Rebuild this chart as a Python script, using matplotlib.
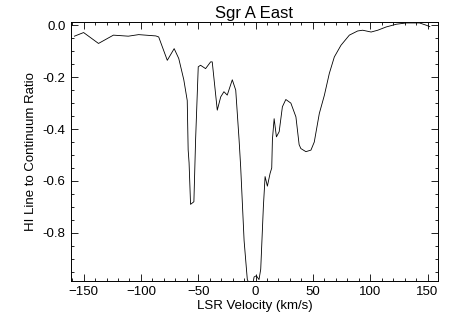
import numpy as np
import matplotlib
matplotlib.use("Agg")
import matplotlib.pyplot as plt
from matplotlib.ticker import MultipleLocator

plt.rcParams['font.family'] = ['Liberation Sans', 'DejaVu Sans']

# HI absorption spectrum towards Sgr A East
velocity = [-158, -150, -137, -124, -111, -102, -87, -84.5, -77, -71, -67, -62.6,
            -59.6, -58.8, -58, -56.7, -53.8, -52.3, -50, -48, -43.6, -39.2, -37.8,
            -33.4, -30.4, -27.6, -24.7, -20.3, -17.3, -14.4, -13, -10, -7.2, -5,
            -2.5, -1.3, 0.7, 3, 4.5, 6.8, 8.3, 10.3, 12.7, 14.1, 14.7, 16.2, 18.2,
            20.6, 23.4, 26.4, 30.8, 35.2, 38, 39.5, 43.9, 48.3, 51.2, 55.6, 60,
            64.3, 68.7, 74.5, 81.8, 89, 93.4, 100.8, 106.6, 113.9, 122.7, 131.4,
            143, 149, 152]
ratio = [-0.042, -0.028, -0.07, -0.038, -0.042, -0.036, -0.041, -0.045, -0.135,
         -0.09, -0.128, -0.21, -0.29, -0.48, -0.53, -0.69, -0.68, -0.44, -0.16,
         -0.154, -0.167, -0.141, -0.141, -0.327, -0.276, -0.256, -0.269, -0.21,
         -0.25, -0.44, -0.545, -0.83, -0.98, -1.0, -1.0, -0.97, -0.965, -0.98,
         -0.94, -0.70, -0.583, -0.62, -0.57, -0.55, -0.44, -0.36, -0.43, -0.41,
         -0.314, -0.286, -0.30, -0.353, -0.46, -0.475, -0.487, -0.481, -0.45,
         -0.34, -0.27, -0.186, -0.122, -0.077, -0.038, -0.022, -0.019, -0.026,
         -0.019, -0.0065, 0.004, 0.009, 0.009, 0.0, -0.005]

fig = plt.figure(figsize=(4.58, 3.27), dpi=100)
ax = fig.add_axes([0.155, 0.141, 0.801, 0.792])
ax.plot(velocity, ratio, color='black', lw=0.6)

ax.set_xlim(-161, 159)
ax.set_ylim(-0.985, 0.013)
ax.xaxis.set_major_locator(MultipleLocator(50))
ax.xaxis.set_minor_locator(MultipleLocator(10))
ax.yaxis.set_major_locator(MultipleLocator(0.2))
ax.yaxis.set_minor_locator(MultipleLocator(0.05))
ax.yaxis.set_major_formatter(matplotlib.ticker.FormatStrFormatter('%.1f'))
ax.tick_params(which='both', direction='in', top=True, right=True,
               labelsize=9.5, width=0.6, pad=4)
ax.tick_params(which='major', length=5)
ax.tick_params(which='minor', length=2.5)
for s in ax.spines.values():
    s.set_linewidth(0.7)

ax.set_title('Sgr A East', fontsize=12, pad=3)
ax.set_xlabel('LSR Velocity (km/s)', fontsize=9.5, labelpad=1)
ax.set_ylabel('HI Line to Continuum Ratio', fontsize=9.5, labelpad=4)

fig.savefig('out.png', dpi=100)
